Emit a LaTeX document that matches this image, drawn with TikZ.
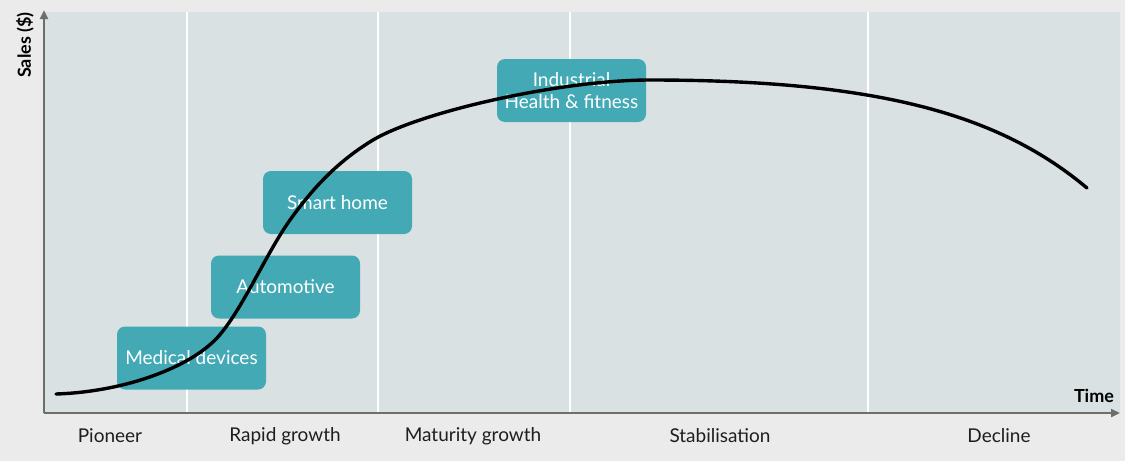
\documentclass[tikz,border=0pt]{standalone}
\usepackage{fontspec}
\setmainfont{Lato}
\usetikzlibrary{arrows.meta}
\definecolor{pagegray}{HTML}{EBEBEB}
\definecolor{plotgray}{HTML}{D9E1E2}
\definecolor{axisgray}{HTML}{6D6E68}
\definecolor{sectorteal}{HTML}{3AA7B3}
\definecolor{labeldark}{HTML}{1E1E1E}

\begin{document}
\begin{tikzpicture}[x=1pt,y=-1pt,>={Triangle[length=9pt,width=8pt]},
  sector/.style={rectangle,rounded corners=8pt,fill=sectorteal,fill opacity=0.95,text opacity=1,
    text=white,minimum width=149pt,minimum height=63pt,align=center,font=\fontsize{19}{21.5}\selectfont,inner sep=0pt},
  phase/.style={text=labeldark,font=\fontsize{19}{21}\selectfont,anchor=center},
  axislabel/.style={text=black,font=\bfseries\fontsize{18}{20}\selectfont}]
  % page and plot area
  \fill[pagegray] (0,0) rectangle (1125,461);
  \useasboundingbox (0,0) rectangle (1125,461);
  \fill[plotgray] (44,12) rectangle (1120,413);
  % phase separators
  \foreach \xs in {187,378,570,868}
    \draw[white,line width=1.6pt] (\xs,12) -- (\xs,413);
  % axes
  \coordinate (origin) at (44,413);
  \coordinate (ytop) at (44,10);
  \coordinate (xend) at (1120,413);
  \draw[->,axisgray,line width=2.4pt] (origin) -- (ytop);
  \draw[->,axisgray,line width=2.4pt] (origin) -- (xend);
  \node[axislabel,rotate=90] (sales) at (25,45) {Sales (\$)};
  \node[axislabel] (time) at (1094,396) {Time};
  % phases along the time axis
  \node[phase] (pioneer) at (110,436) {Pioneer};
  \node[phase] (rapid) at (285,436) {Rapid growth};
  \node[phase] (maturity) at (473,436) {Maturity growth};
  \node[phase] (stable) at (720,436) {Stabilisation};
  \node[phase] (decline) at (999,436) {Decline};
  % sectors on the curve
  \node[sector] (medical) at (191.5,358) {Medical devices};
  \node[sector] (automotive) at (285.5,287) {Automotive};
  \node[sector] (smarthome) at (337.5,202.5) {Smart home};
  \node[sector] (industrial) at (571.5,90.5) {Industrial\\Health \& fitness};
  % product life cycle curve
  \draw[black,line width=3.4pt,line cap=round]
    (56,394) .. controls (120,392) and (185,370) .. (215,340)
             .. controls (240,315) and (265,255) .. (290,220)
             .. controls (315,185) and (340,160) .. (373,140)
             .. controls (420,112) and (560,80) .. (650,80)
             .. controls (880,80) and (1000,115) .. (1087,188);
\end{tikzpicture}
\end{document}
